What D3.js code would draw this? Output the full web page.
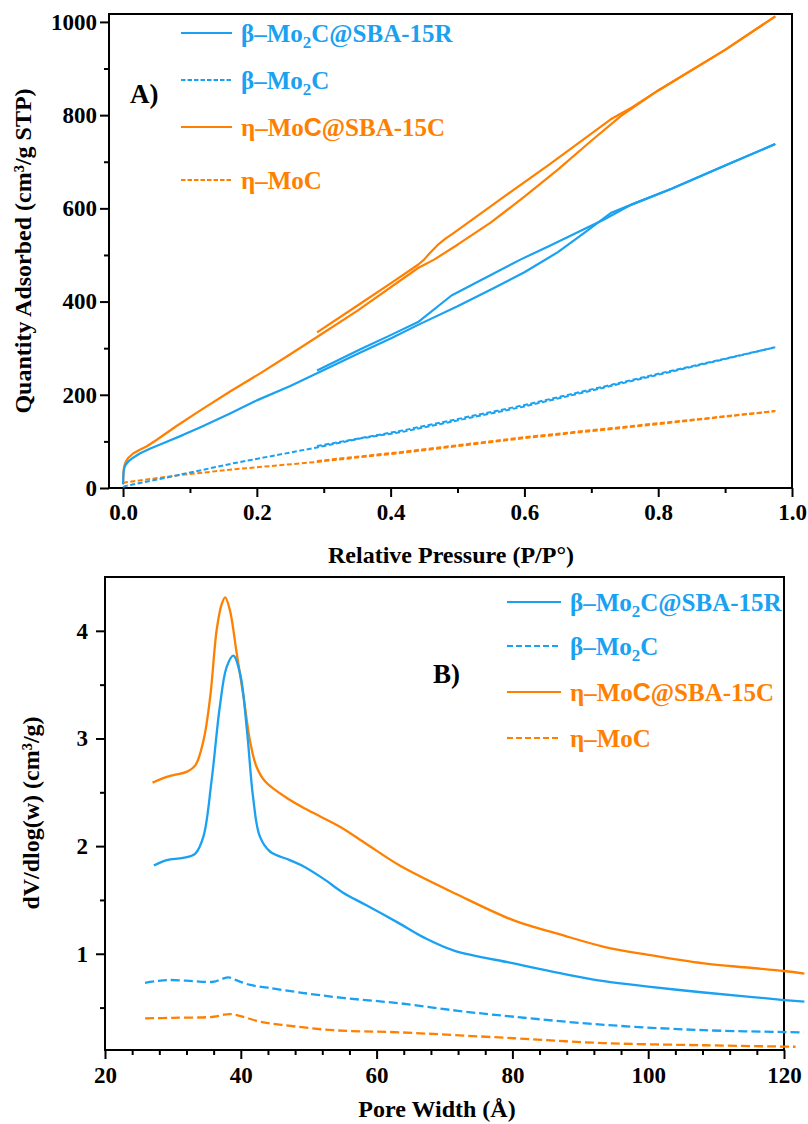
<!DOCTYPE html>
<html>
<head>
<meta charset="utf-8">
<script src="https://cdn.jsdelivr.net/npm/d3@7"></script>
<style>
  body { margin: 0; background: #fff; }
  svg { display: block; }
  text { font-family: "Liberation Serif", "Times New Roman", serif; font-weight: bold; }
</style>
</head>
<body>
<svg id="fig" width="808" height="1124"></svg>
<script>
// ---------- Panel A: N2 isotherms (relative pressure vs quantity adsorbed) ----------
// β–Mo2C@SBA-15R, adsorption branch
const betaSbaAdsP = [0, 0.0005, 0.001, 0.002, 0.004, 0.008, 0.015, 0.025, 0.04, 0.06, 0.09, 0.115, 0.16, 0.2, 0.25, 0.29, 0.354, 0.4, 0.441, 0.5, 0.55, 0.6, 0.65, 0.69, 0.729, 0.76, 0.82, 0.9, 0.975];
const betaSbaAdsQ = [8, 28, 36, 44, 50, 57, 65, 74, 84, 96, 114, 130, 160, 188, 219, 246, 290, 321, 350, 390, 426, 463, 506, 548, 590, 608, 642, 692, 738];
// β–Mo2C@SBA-15R, desorption branch
const betaSbaDesP = [0.29, 0.354, 0.4, 0.441, 0.491, 0.594, 0.638, 0.719, 0.76, 0.82, 0.9, 0.975];
const betaSbaDesQ = [252, 297, 328, 356, 413, 490, 520, 576, 608, 642, 692, 738];
// η–MoC@SBA-15C, adsorption branch
const etaSbaAdsP = [0, 0.0005, 0.001, 0.002, 0.004, 0.008, 0.015, 0.025, 0.035, 0.05, 0.08, 0.115, 0.16, 0.205, 0.25, 0.29, 0.35, 0.441, 0.465, 0.5, 0.55, 0.6, 0.65, 0.7, 0.744, 0.8, 0.9, 0.975];
const etaSbaAdsQ = [8, 30, 40, 48, 56, 65, 74, 82, 89, 103, 133, 166, 207, 246, 287, 324, 380, 472, 490, 522, 570, 625, 683, 745, 798, 853, 940, 1012];
// η–MoC@SBA-15C, desorption branch
const etaSbaDesP = [0.29, 0.35, 0.4, 0.441, 0.45, 0.458, 0.47, 0.482, 0.494, 0.55, 0.638, 0.729, 0.76, 0.8, 0.9, 0.975];
const etaSbaDesQ = [334, 391, 439, 479, 490, 503, 521, 535, 547, 605, 695, 791, 816, 853, 940, 1012];
// β–Mo2C, adsorption / desorption
const betaAdsP = [0, 0.003, 0.08, 0.165, 0.29, 0.354, 0.42, 0.6, 0.8, 0.975];
const betaAdsQ = [2, 4, 27, 53, 87, 106, 121, 175, 243, 302];
const betaDesP = [0.29, 0.42, 0.6, 0.8, 0.975];
const betaDesQ = [90, 124, 178, 245, 302];
// η–MoC, adsorption / desorption
const etaAdsP = [0, 0.003, 0.08, 0.165, 0.29, 0.354, 0.42, 0.6, 0.8, 0.975];
const etaAdsQ = [10, 12, 27, 40, 56, 66, 76, 107, 137, 165];
const etaDesP = [0.29, 0.42, 0.6, 0.8, 0.975];
const etaDesQ = [58, 78, 109, 139, 165];

// ---------- Panel B: pore size distributions ----------
const betaSbaW = [27.2, 29.1, 31.5, 33.3, 34.5, 35.7, 36.9, 37.9, 38.9, 39.9, 40.9, 41.8, 42.8, 44.3, 47.2, 49, 52.1, 55, 58.5, 63.4, 67, 71.4, 80.2, 87, 93.5, 100, 108.2, 115, 120, 123];
const betaSbaV = [1.82, 1.87, 1.89, 1.93, 2.09, 2.61, 3.29, 3.66, 3.77, 3.60, 3.08, 2.46, 2.09, 1.95, 1.87, 1.82, 1.70, 1.57, 1.45, 1.28, 1.15, 1.03, 0.91, 0.82, 0.745, 0.695, 0.64, 0.60, 0.57, 0.555];
const etaSbaW = [27.0, 28.5, 30.1, 32.0, 33.3, 34.5, 35.5, 36.45, 37.2, 37.7, 38.4, 39.4, 40.4, 41.35, 42.3, 43.6, 47.2, 50, 54.6, 58.5, 63.4, 71.9, 80.2, 87, 93.5, 100, 108.2, 115, 120, 123];
const etaSbaV = [2.59, 2.63, 2.66, 2.69, 2.75, 2.98, 3.39, 4.01, 4.25, 4.31, 4.19, 3.79, 3.39, 2.98, 2.74, 2.60, 2.43, 2.33, 2.18, 2.02, 1.82, 1.55, 1.31, 1.18, 1.065, 0.99, 0.91, 0.87, 0.84, 0.815];
const betaW = [25.9, 27.5, 29.1, 32, 36.0, 37.2, 38.2, 39.5, 41.4, 44, 48.7, 55, 63.4, 72, 80.2, 93.5, 108.2, 122.9];
const betaV = [0.73, 0.745, 0.756, 0.75, 0.74, 0.765, 0.78, 0.75, 0.71, 0.685, 0.64, 0.59, 0.54, 0.47, 0.415, 0.34, 0.29, 0.27];
const etaW = [25.9, 30, 36, 37.2, 38.4, 40, 42.8, 46, 53.6, 63.4, 80.2, 93.5, 108.2, 121.7];
const etaV = [0.40, 0.405, 0.415, 0.43, 0.44, 0.42, 0.37, 0.34, 0.29, 0.27, 0.215, 0.17, 0.15, 0.136];

// ---------- Axis ticks ----------
const aMajorX = [0, 0.2, 0.4, 0.6, 0.8, 1.0];
const aMinorX = [0.1, 0.3, 0.5, 0.7, 0.9];
const aMajorY = [0, 200, 400, 600, 800, 1000];
const aMinorY = [100, 300, 500, 700, 900];
const bMajorX = [20, 40, 60, 80, 100, 120];
const bMinorX = d3.range(24, 120, 4).filter(v => v % 20 !== 0);
const bMajorY = [1, 2, 3, 4];
const bMinorY = [0.5, 1.5, 2.5, 3.5];

const BLUE = "#1aa1f1";
const ORANGE = "#ff8000";

const svg = d3.select("#fig");

const pairs = (xs, ys) => xs.map((x, i) => [x, ys[i]]);

function drawFrame(x0, y0, x1, y1) {
  svg.append("rect")
    .attr("x", x0).attr("y", y0)
    .attr("width", x1 - x0).attr("height", y1 - y0)
    .attr("fill", "none").attr("stroke", "#000").attr("stroke-width", 2);
}

function styleAxis(g, fontSize) {
  g.select(".domain").remove();
  g.selectAll(".tick line").attr("stroke", "#000").attr("stroke-width", 2);
  g.selectAll(".tick text")
    .attr("fill", "#000")
    .style("font-size", fontSize + "px")
    .style("font-family", '"Liberation Serif", "Times New Roman", serif')
    .style("font-weight", "bold");
}

// ================= Panel A =================
const xA = d3.scaleLinear().domain([-0.021, 1.0]).range([109, 792]);
const yA = d3.scaleLinear().domain([0, 1017]).range([488, 14]);

drawFrame(109, 14, 792, 488);

svg.append("g").attr("transform", "translate(109,0)")
  .call(d3.axisLeft(yA).tickValues(aMajorY).tickSize(9).tickPadding(3).tickFormat(d3.format("d")))
  .call(g => styleAxis(g, 23));
svg.append("g").attr("transform", "translate(109,0)")
  .call(d3.axisLeft(yA).tickValues(aMinorY).tickSize(5).tickFormat(""))
  .call(g => styleAxis(g, 23));
svg.append("g").attr("transform", "translate(0,488)")
  .call(d3.axisBottom(xA).tickValues(aMajorX).tickSize(9).tickPadding(7).tickFormat(d3.format(".1f")))
  .call(g => styleAxis(g, 23));
svg.append("g").attr("transform", "translate(0,488)")
  .call(d3.axisBottom(xA).tickValues(aMinorX).tickSize(5).tickFormat(""))
  .call(g => styleAxis(g, 23));

const lineA = d3.line().x(d => xA(d[0])).y(d => yA(d[1]));

const seriesA = [
  { xs: etaAdsP, ys: etaAdsQ, color: ORANGE, dash: "5,2.5" },
  { xs: etaDesP, ys: etaDesQ, color: ORANGE, dash: "5,2.5" },
  { xs: betaAdsP, ys: betaAdsQ, color: BLUE, dash: "5,2.5" },
  { xs: betaDesP, ys: betaDesQ, color: BLUE, dash: "5,2.5" },
  { xs: etaSbaAdsP, ys: etaSbaAdsQ, color: ORANGE, dash: null },
  { xs: etaSbaDesP, ys: etaSbaDesQ, color: ORANGE, dash: null },
  { xs: betaSbaAdsP, ys: betaSbaAdsQ, color: BLUE, dash: null },
  { xs: betaSbaDesP, ys: betaSbaDesQ, color: BLUE, dash: null }
];
seriesA.forEach(s => {
  svg.append("path")
    .attr("d", lineA(pairs(s.xs, s.ys)))
    .attr("fill", "none")
    .attr("stroke", s.color)
    .attr("stroke-width", s.dash ? 2 : 2.2)
    .attr("stroke-linejoin", "round")
    .attr("stroke-dasharray", s.dash);
});

svg.append("text").attr("x", 130).attr("y", 103).style("font-size", "27px").text("A)");

svg.append("text")
  .attr("transform", "translate(31,251) rotate(-90)")
  .attr("text-anchor", "middle")
  .style("font-size", "24px")
  .text("Quantity Adsorbed (cm³/g STP)");
svg.append("text")
  .attr("x", 451).attr("y", 563)
  .attr("text-anchor", "middle")
  .style("font-size", "24px")
  .text("Relative Pressure (P/P°)");

// ================= Panel B =================
const xB = d3.scaleLinear().domain([20, 120]).range([105, 784]);
const yB = d3.scaleLinear().domain([0.106, 4.5]).range([1050, 577]);

drawFrame(105, 577, 784, 1050);

svg.append("g").attr("transform", "translate(105,0)")
  .call(d3.axisLeft(yB).tickValues(bMajorY).tickSize(9).tickPadding(8).tickFormat(d3.format("d")))
  .call(g => styleAxis(g, 23));
svg.append("g").attr("transform", "translate(105,0)")
  .call(d3.axisLeft(yB).tickValues(bMinorY).tickSize(5).tickFormat(""))
  .call(g => styleAxis(g, 23));
svg.append("g").attr("transform", "translate(0,1050)")
  .call(d3.axisBottom(xB).tickValues(bMajorX).tickSize(9).tickPadding(8).tickFormat(d3.format("d")))
  .call(g => styleAxis(g, 23));
svg.append("g").attr("transform", "translate(0,1050)")
  .call(d3.axisBottom(xB).tickValues(bMinorX).tickSize(5).tickFormat(""))
  .call(g => styleAxis(g, 23));

const lineB = d3.line().curve(d3.curveCatmullRom.alpha(0.5)).x(d => xB(d[0])).y(d => yB(d[1]));

const seriesB = [
  { xs: etaW, ys: etaV, color: ORANGE, dash: "9,4" },
  { xs: betaW, ys: betaV, color: BLUE, dash: "9,4" },
  { xs: etaSbaW, ys: etaSbaV, color: ORANGE, dash: null },
  { xs: betaSbaW, ys: betaSbaV, color: BLUE, dash: null }
];
seriesB.forEach(s => {
  svg.append("path")
    .attr("d", lineB(pairs(s.xs, s.ys)))
    .attr("fill", "none")
    .attr("stroke", s.color)
    .attr("stroke-width", 2.3)
    .attr("stroke-dasharray", s.dash);
});

svg.append("text").attr("x", 433).attr("y", 683).style("font-size", "27px").text("B)");

svg.append("text")
  .attr("transform", "translate(39,813) rotate(-90)")
  .attr("text-anchor", "middle")
  .style("font-size", "24px")
  .text("dV/dlog(w) (cm³/g)");
svg.append("text")
  .attr("x", 437).attr("y", 1117)
  .attr("text-anchor", "middle")
  .style("font-size", "24px")
  .text("Pore Width (Å)");

// ================= Legends =================
function legendLabel(g, x, y, color, kind) {
  const t = g.append("text").attr("x", x).attr("y", y).attr("fill", color).style("font-size", "25px");
  if (kind === "betaSba" || kind === "beta") {
    t.append("tspan").text("β–Mo");
    t.append("tspan").attr("dy", 6).style("font-size", "17px").text("2");
    t.append("tspan").attr("dy", -6).text(kind === "betaSba" ? "C@SBA-15R" : "C");
  } else if (kind === "etaSba") {
    t.append("tspan").text("η–Mo");
    t.append("tspan").style("font-family", '"Liberation Sans", Arial, sans-serif').text("C");
    t.append("tspan").text("@SBA-15C");
  } else {
    t.append("tspan").text("η–MoC");
  }
}

function legend(x1, x2, tx, ys, dash) {
  const g = svg.append("g");
  const items = [
    { kind: "betaSba", color: BLUE, dash: null },
    { kind: "beta", color: BLUE, dash: dash },
    { kind: "etaSba", color: ORANGE, dash: null },
    { kind: "eta", color: ORANGE, dash: dash }
  ];
  items.forEach((it, i) => {
    g.append("line")
      .attr("x1", x1).attr("x2", x2).attr("y1", ys[i]).attr("y2", ys[i])
      .attr("stroke", it.color).attr("stroke-width", 2.2)
      .attr("stroke-dasharray", it.dash);
    legendLabel(g, tx, ys[i] + 9, it.color, it.kind);
  });
}

legend(181, 232, 241, [33, 80, 127, 180], "4.5,2");
legend(507, 561, 570, [602, 646, 692, 738], "6,3");
</script>
</body>
</html>
